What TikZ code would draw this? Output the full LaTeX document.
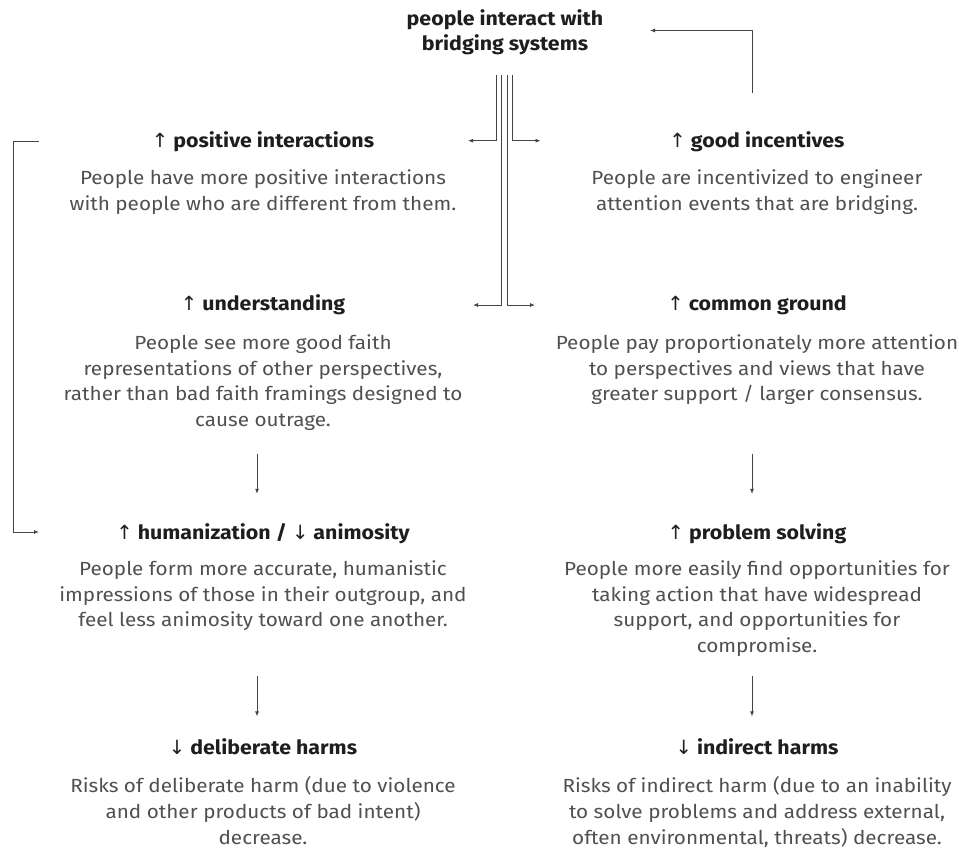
\documentclass[tikz,border=0pt]{standalone}
\usepackage{fontspec}
\setmainfont{Fira Sans}[FakeStretch=1.09]
\newfontfamily\arrfont{DejaVu Sans}
\usetikzlibrary{arrows.meta}
\definecolor{ink}{HTML}{1e1e1e}
\definecolor{bodyink}{HTML}{505050}
\definecolor{wire}{HTML}{444444}
\newcommand{\upar}{{\arrfont\mdseries ↑}}
\newcommand{\dnar}{{\arrfont\mdseries ↓}}
\begin{document}
\begin{tikzpicture}[x=1pt,y=-1pt,
  every node/.style={inner sep=0pt},
  head/.style={font=\fontsize{19.6}{25}\selectfont\bfseries, text=ink, anchor=base},
  title/.style={font=\fontsize{19.6}{25}\selectfont\bfseries, text=ink, align=center, anchor=north},
  bodytext/.style={font=\fontsize{19}{25.7}\selectfont, text=bodyink, align=center, anchor=north},
  arr/.style={draw=wire, line width=0.9pt, -{Latex[length=5pt,width=4pt]}}]
\useasboundingbox (0,0) rectangle (959,850);

% title
\node[title] (top) at (505,9) {people interact with\\bridging systems};

% left column
\node[head] (posH) at (263,147.7) {\upar\ positive interactions};
\node[bodytext] (posB) at (263,169.5) {People have more positive interactions\\with people who are different from them.};
\node[head] (undH) at (263,311) {\upar\ understanding};
\node[bodytext] (undB) at (263,334.5) {People see more good faith\\representations of other perspectives,\\rather than bad faith framings designed to\\cause outrage.};
\node[head] (humH) at (263,539) {\upar\ humanization / \dnar\ animosity};
\node[bodytext] (humB) at (263,560.5) {People form more accurate, humanistic\\impressions of those in their outgroup, and\\feel less animosity toward one another.};
\node[head] (delH) at (263,754) {\dnar\ deliberate harms};
\node[bodytext] (delB) at (263,776.5) {Risks of deliberate harm (due to violence\\and other products of bad intent)\\decrease.};

% right column
\node[head] (incH) at (757,147.7) {\upar\ good incentives};
\node[bodytext] (incB) at (757,169.5) {People are incentivized to engineer\\attention events that are bridging.};
\node[head] (comH) at (757,311) {\upar\ common ground};
\node[bodytext] (comB) at (757,334.5) {People pay proportionately more attention\\to perspectives and views that have\\greater support / larger consensus.};
\node[head] (proH) at (757,539) {\upar\ problem solving};
\node[bodytext] (proB) at (757,560.5) {People more easily find opportunities for\\taking action that have widespread\\support, and opportunities for\\compromise.};
\node[head] (indH) at (757,754) {\dnar\ indirect harms};
\node[bodytext] (indB) at (757,776.5) {Risks of indirect harm (due to an inability\\to solve problems and address external,\\often environmental, threats) decrease.};

% ports
\coordinate (colL) at (257,0);
\coordinate (colR) at (752,0);
\coordinate (posIn) at (468,140.7);
\coordinate (incIn) at (540.5,140.7);
\coordinate (undIn) at (473,305);
\coordinate (comIn) at (535,305);
\coordinate (topIn) at (650,30.5);
\coordinate (loopS) at (39,141.7);
\coordinate (loopE) at (39,532);

% fan-out from title
\draw[arr] ([xshift=-9pt]top.south) ++(0,20.5) |- (posIn);
\draw[arr] ([xshift=7.7pt]top.south) ++(0,20.5) |- (incIn);
\draw[arr] ([xshift=-3.3pt]top.south) ++(0,20.5) |- (undIn);
\draw[arr] ([xshift=2.3pt]top.south) ++(0,20.5) |- (comIn);

% feedback
\draw[arr] (incH.north -| colR) ++(0,-39) |- (topIn);

% left loop
\draw[arr] (loopS) -- ++(-26,0) |- (loopE);

% vertical arrows
\draw[arr, shorten <=23pt, shorten >=29pt] (undB.south -| colL) -- (humH.north -| colL);
\draw[arr, shorten <=44.5pt, shorten >=21.5pt] (humB.south -| colL) -- (delH.north -| colL);
\draw[arr, shorten <=48.5pt, shorten >=29pt] (comB.south -| colR) -- (proH.north -| colR);
\draw[arr, shorten <=19pt, shorten >=21.5pt] (proB.south -| colR) -- (indH.north -| colR);
\end{tikzpicture}
\end{document}
